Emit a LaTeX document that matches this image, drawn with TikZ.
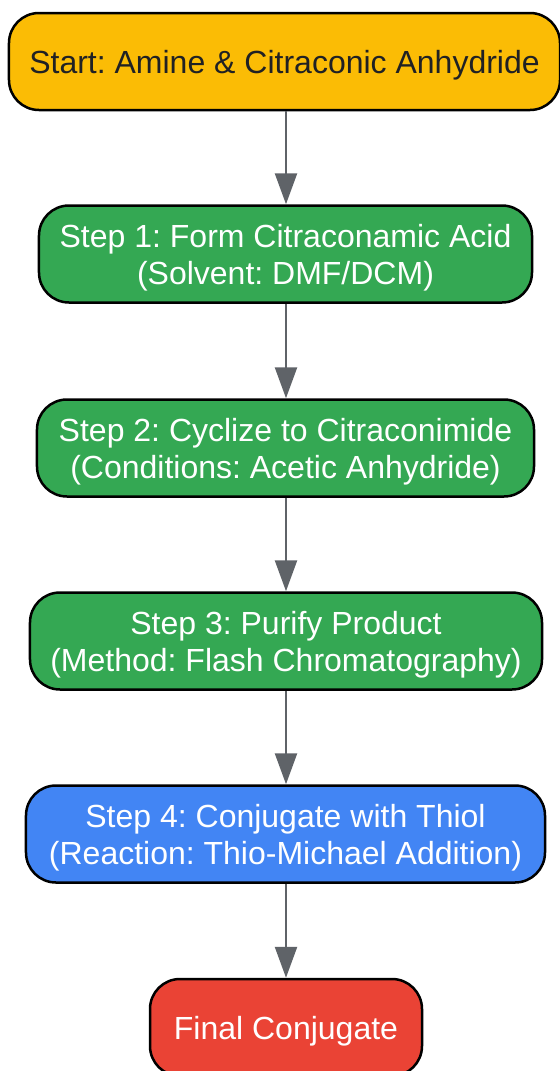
\documentclass[tikz,border=0pt]{standalone}
\usepackage{fontspec}
\setmainfont{Liberation Sans}
\usetikzlibrary{arrows.meta}
\frenchspacing
\definecolor{cyellow}{HTML}{FBBC05}
\definecolor{cgreen}{HTML}{34A853}
\definecolor{cblue}{HTML}{4285F4}
\definecolor{cred}{HTML}{EA4335}
\definecolor{carrow}{HTML}{5F6368}
\definecolor{cdark}{HTML}{202124}
\tikzset{
  box/.style={draw=black, line width=2.5bp, rounded corners=30bp, align=center,
    inner sep=0pt, minimum height=97bp, text height=30bp,
    font=\frenchspacing\fontsize{32bp}{37bp}\selectfont},
  boxtwo/.style={box, text height=67.5bp},
  flow/.style={draw=carrow, line width=2.5bp, -{Triangle[length=31bp,width=22bp]}}
}
\begin{document}
\begin{tikzpicture}[x=1bp,y=-1bp]
\useasboundingbox (0,0) rectangle (560,1071);
\node[box, fill=cyellow, text=cdark, minimum width=551bp] (start) at (284.5,61.5) {Start: Amine \& Citraconic Anhydride};
\node[boxtwo, fill=cgreen, text=white, minimum width=493bp] (s1) at (285.5,254) {Step 1: Form Citraconamic Acid\\(Solvent: DMF/DCM)};
\node[boxtwo, fill=cgreen, text=white, minimum width=497bp] (s2) at (285.5,448) {Step 2: Cyclize to Citraconimide\\(Conditions: Acetic Anhydride)};
\node[boxtwo, fill=cgreen, text=white, minimum width=512bp] (s3) at (286,641) {Step 3: Purify Product\\(Method: Flash Chromatography)};
\node[boxtwo, fill=cblue, text=white, minimum width=519bp] (s4) at (285.5,834) {Step 4: Conjugate with Thiol\\(Reaction: Thio-Michael Addition)};
\node[box, fill=cred, text=white, minimum width=272bp] (fin) at (286,1027.5) {Final Conjugate};
\draw[flow] (286,0 |- start.south) -- (286,0 |- s1.north);
\draw[flow] (286,0 |- s1.south) -- (286,0 |- s2.north);
\draw[flow] (286,0 |- s2.south) -- (286,0 |- s3.north);
\draw[flow] (286,0 |- s3.south) -- (286,0 |- s4.north);
\draw[flow] (286,0 |- s4.south) -- (286,0 |- fin.north);
\end{tikzpicture}
\end{document}
